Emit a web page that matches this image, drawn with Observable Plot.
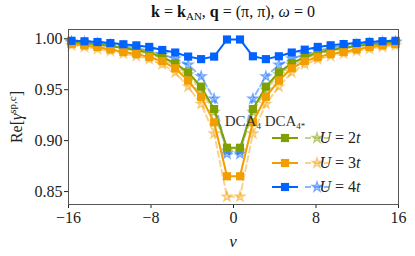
<!DOCTYPE html>
<html>
<head>
<meta charset="utf-8">
<script src="https://cdn.jsdelivr.net/npm/d3@7"></script>
<script src="https://cdn.jsdelivr.net/npm/@observablehq/plot@0.6"></script>
<style>
  html, body { margin: 0; padding: 0; background: white; }
  #wrap { position: relative; width: 415px; height: 256px; font-family: "Liberation Serif", serif; }
  #title { position: absolute; left: 68px; width: 330px; top: 3px; text-align: center; font-size: 16px; color: #111; white-space: nowrap; }
  #title sub { font-size: 11px; vertical-align: -3px; line-height: 0; }
</style>
</head>
<body>
<div id="wrap">
  <div id="chart"></div>
  <div id="title"><b>k</b> = <b>k</b><sub>AN</sub>, <b>q</b> = (π, π), <i>ω</i> = 0</div>
</div>
<script>
// ---- data ----
const nu = [-15.71,-14.45,-13.19,-11.94,-10.68,-9.42,-8.17,-6.91,-5.65,-4.40,-3.14,-1.88,-0.63,
             0.63, 1.88, 3.14, 4.40, 5.65, 6.91, 8.17, 9.42, 10.68, 11.94, 13.19, 14.45, 15.71];

const dca_U2 = [0.9965,0.9955,0.9945,0.993,0.991,0.989,0.9865,0.982,0.976,0.967,0.953,0.931,0.893,
                0.893,0.931,0.953,0.967,0.976,0.982,0.9865,0.989,0.991,0.993,0.9945,0.9955,0.9965];
const dca_U3 = [0.995,0.9935,0.992,0.9895,0.987,0.985,0.982,0.978,0.971,0.959,0.943,0.918,0.865,
                0.865,0.918,0.943,0.959,0.971,0.978,0.982,0.985,0.987,0.9895,0.992,0.9935,0.995];
const dca_U4 = [0.998,0.9975,0.9968,0.9958,0.9946,0.9935,0.992,0.989,0.9865,0.9825,0.980,0.9825,0.9993,
                0.9993,0.9828,0.980,0.9828,0.9865,0.9893,0.992,0.9936,0.9948,0.9959,0.9969,0.9976,0.998];

const dcas_U2 = [0.996,0.995,0.994,0.9925,0.9905,0.988,0.985,0.981,0.9745,0.965,0.950,0.928,0.890,
                 0.890,0.928,0.950,0.965,0.9745,0.981,0.985,0.988,0.9905,0.9925,0.994,0.995,0.996];
const dcas_U3 = [0.9935,0.992,0.990,0.988,0.9855,0.983,0.980,0.975,0.967,0.953,0.936,0.907,0.845,
                 0.845,0.907,0.936,0.953,0.967,0.975,0.980,0.983,0.9855,0.988,0.990,0.992,0.9935];
const dcas_U4 = [0.997,0.9965,0.9955,0.994,0.9925,0.991,0.988,0.9845,0.9805,0.9745,0.963,0.941,0.887,
                 0.887,0.941,0.963,0.9745,0.9805,0.9845,0.988,0.991,0.9925,0.994,0.9955,0.9965,0.997];

const seriesLabels = ["U = 2t", "U = 3t", "U = 4t"];
const colors = ["#7fa000", "#f29e00", "#0062ff"];
const xTicks = [-16, -8, 0, 8, 16];
const yTicks = [0.85, 0.90, 0.95, 1.00];

// ---- build tables ----
const solid = [dca_U2, dca_U3, dca_U4];
const dashed = [dcas_U2, dcas_U3, dcas_U4];
function rows(arrs, kind) {
  const out = [];
  arrs.forEach((a, s) => a.forEach((v, i) => out.push({nu: nu[i], v, s, kind})));
  return out;
}
const solidRows = rows(solid, "DCA4");
const dashedRows = rows(dashed, "DCA4*");

const STAR_R = 3.1, SQ_R = 4.6;
const marks = [];
for (let s = 0; s < 3; s++) {
  const d = dashedRows.filter(r => r.s === s);
  marks.push(Plot.line(d, {x: "nu", y: "v", stroke: colors[s], strokeOpacity: 0.45, strokeWidth: 2, strokeDasharray: "6,3.5"}));
  marks.push(Plot.dot(d, {x: "nu", y: "v", symbol: "star", r: STAR_R, fill: colors[s], fillOpacity: 0.2, stroke: colors[s], strokeOpacity: 0.5, strokeWidth: 1.3}));
}
for (let s = 0; s < 3; s++) {
  const d = solidRows.filter(r => r.s === s);
  marks.push(Plot.line(d, {x: "nu", y: "v", stroke: colors[s], strokeWidth: 2}));
  marks.push(Plot.dot(d, {x: "nu", y: "v", symbol: "square", r: SQ_R, fill: colors[s], stroke: "none"}));
}

const chart = Plot.plot({
  width: 415, height: 256,
  marginTop: 29, marginBottom: 52, marginLeft: 68, marginRight: 17,
  style: {fontFamily: "Liberation Serif, serif", fontSize: "16px", background: "white", color: "#222"},
  x: {domain: [-16, 16]},
  y: {domain: [0.8373, 1.0091]},
  marks: [
    Plot.axisX({ticks: xTicks, tickSize: 4, tickPadding: 3, label: null, fontSize: 16,
                tickFormat: d => d < 0 ? "\u2212" + (-d) : String(d)}),
    Plot.axisY({ticks: yTicks, tickSize: 4, tickPadding: 2, label: null, fontSize: 16,
                tickFormat: d3.format(".2f")}),
    ...marks,
    Plot.frame({stroke: "#555", strokeWidth: 1})
  ]
});
document.getElementById("chart").appendChild(chart);

// ---- axis labels and legend (layout) ----
const svg = d3.select(chart);
svg.append("text").attr("x", 233).attr("y", 247).attr("text-anchor", "middle")
  .attr("font-size", 17).attr("font-style", "italic").attr("fill", "#222").text("ν");

const yl = svg.append("text").attr("transform", "translate(22,117) rotate(-90)")
  .attr("text-anchor", "middle").attr("font-size", 16).attr("fill", "#222");
yl.append("tspan").text("Re[");
yl.append("tspan").attr("font-style", "italic").text("γ");
yl.append("tspan").attr("font-size", 11).attr("dy", -6).text("sp,c");
yl.append("tspan").attr("dy", 6).text("]");

const lg = svg.append("g");
const hdr = lg.append("text").attr("x", 265).attr("y", 126).attr("font-size", 15).attr("fill", "#333");
hdr.append("tspan").text("DCA");
hdr.append("tspan").attr("font-size", 9).attr("dy", 3).text("4");
hdr.append("tspan").attr("dy", -3).text(" DCA");
hdr.append("tspan").attr("font-size", 9).attr("dy", 3).text("4*");

const rowY = [138, 163, 187];
const star = d3.symbol(d3.symbolStar, Math.PI * STAR_R * STAR_R)();
const sq = d3.symbol(d3.symbolSquare, Math.PI * SQ_R * SQ_R)();
seriesLabels.forEach((lab, s) => {
  const y = rowY[s];
  lg.append("line").attr("x1", 272).attr("x2", 298).attr("y1", y).attr("y2", y)
    .attr("stroke", colors[s]).attr("stroke-width", 2);
  lg.append("path").attr("d", sq).attr("transform", `translate(285,${y})`).attr("fill", colors[s]);
  lg.append("line").attr("x1", 305).attr("x2", 329).attr("y1", y).attr("y2", y)
    .attr("stroke", colors[s]).attr("stroke-opacity", 0.45).attr("stroke-width", 2).attr("stroke-dasharray", "6,3.5");
  lg.append("path").attr("d", star).attr("transform", `translate(317,${y})`)
    .attr("fill", colors[s]).attr("fill-opacity", 0.2).attr("stroke", colors[s]).attr("stroke-opacity", 0.5).attr("stroke-width", 1.3);
  const t = lg.append("text").attr("x", 340).attr("y", y + 5).attr("font-size", 16).attr("fill", "#222");
  t.append("tspan").attr("font-style", "italic").text("U");
  t.append("tspan").text(" = " + lab.slice(4, 5));
  t.append("tspan").attr("font-style", "italic").text("t");
});
</script>
</body>
</html>
